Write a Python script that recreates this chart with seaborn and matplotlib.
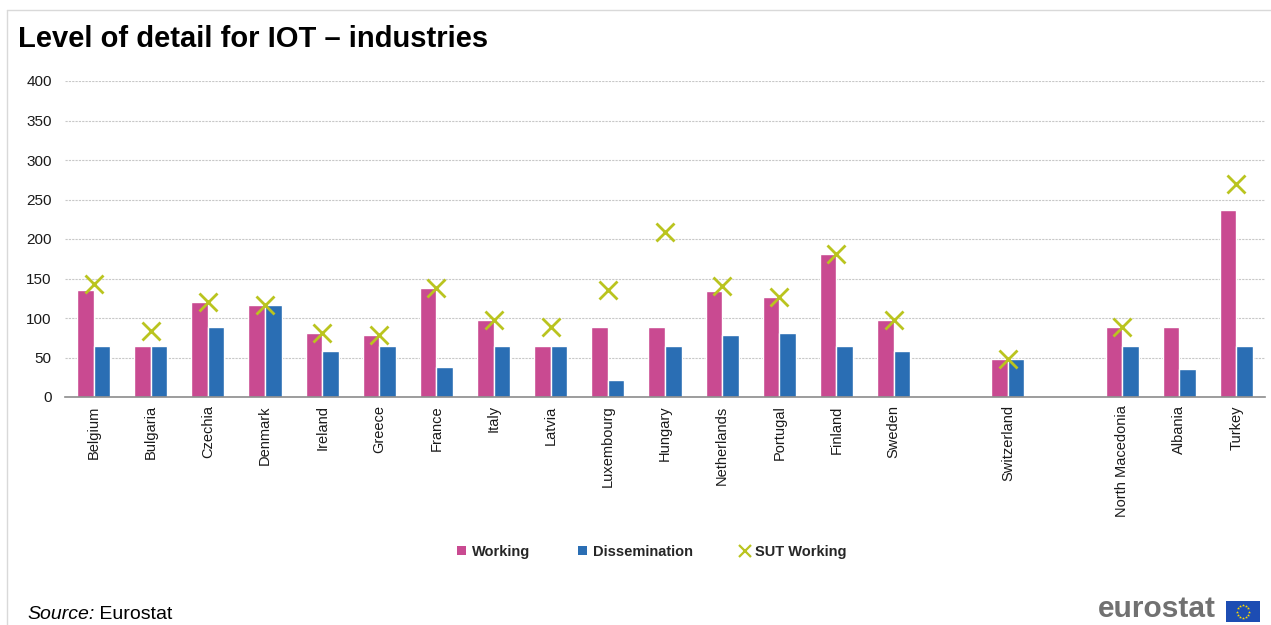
import numpy as np
import pandas as pd
import matplotlib
matplotlib.use("Agg")
import matplotlib.pyplot as plt
from matplotlib.patches import Patch
from matplotlib.lines import Line2D
import seaborn as sns

# ---- data -------------------------------------------------------------
countries = ["Belgium", "Bulgaria", "Czechia", "Denmark", "Ireland", "Greece",
             "France", "Italy", "Latvia", "Luxembourg", "Hungary", "Netherlands",
             "Portugal", "Finland", "Sweden", "Switzerland", "North Macedonia",
             "Albania", "Turkey"]
working = [136, 64, 120, 117, 81, 79, 138, 98, 64, 88, 88, 134, 127, 181, 97,
           48, 88, 88, 237]
dissemination = [64, 64, 88, 117, 58, 64, 38, 64, 64, 21, 64, 79, 81, 64, 58,
                 48, 64, 35, 64]
sut_working = [143, 84, 120, 117, 81, 79, 138, 98, 88, 136, 209, 140, 127, 181,
               97, 48, 88, np.nan, 270]
y_ticks = [0, 50, 100, 150, 200, 250, 300, 350, 400]

# category order with empty slots separating the country groups
order = countries[:15] + [" "] + ["Switzerland"] + ["  "] + countries[16:]

C_WORK = "#C94A91"
C_DISS = "#2A6EB4"
C_SUT = "#BAC41F"
GRID = "#C8C8C8"
AXIS = "#8C8C8C"

sns.set_style("white")
plt.rcParams["font.family"] = ["Liberation Sans", "DejaVu Sans"]

bars = pd.DataFrame({
    "country": countries * 2,
    "series": ["Working"] * len(countries) + ["Dissemination"] * len(countries),
    "value": working + dissemination,
})
sut = pd.DataFrame({"country": countries, "sut": sut_working}).dropna()

W, H = 1271, 625
fig = plt.figure(figsize=(W / 100, H / 100), dpi=100)
ax = fig.add_axes([65 / W, (H - 397) / H, 1200 / W, 316 / H])

sns.barplot(data=bars, x="country", y="value", hue="series", order=order,
            hue_order=["Working", "Dissemination"],
            palette=[C_WORK, C_DISS], width=0.58, gap=0, saturation=1,
            errorbar=None, legend=False, ax=ax, zorder=3)
sns.pointplot(data=sut, x="country", y="sut", order=order, color=C_SUT,
              marker="x", linestyle="none", markersize=13,
              markeredgewidth=2, errorbar=None, ax=ax, zorder=4)

n = len(order)
ax.set_xlim(-0.5, n - 0.5)
ax.set_ylim(0, 400)
ax.set_yticks(y_ticks)
ax.yaxis.grid(True, color=GRID, linestyle=(0, (2, 1)), linewidth=0.8, zorder=0)
ax.xaxis.grid(False)
ax.set_xlabel("")
ax.set_ylabel("")

for s in ["top", "right", "left"]:
    ax.spines[s].set_visible(False)
ax.spines["bottom"].set_color(AXIS)
ax.spines["bottom"].set_linewidth(1.2)
ax.spines["bottom"].set_zorder(5)

ax.tick_params(axis="y", length=0, pad=9.5, labelsize=11, labelcolor="#1a1a1a")
ax.set_xticks(range(n))
ax.set_xticklabels([c.strip() for c in order], rotation=90, va="top",
                   ha="center", fontsize=10.5, color="#1a1a1a")
ax.tick_params(axis="x", which="major", length=0, pad=6)
ax.set_xticks(np.arange(-0.5, n, 1.0), minor=True)
ax.tick_params(axis="x", which="minor", length=6, width=1, color=AXIS,
               direction="out")

# title
fig.text(18 / W, 1 - 47 / H, "Level of detail for IOT \u2013 industries",
         fontsize=21, fontweight="bold", color="#000000", va="baseline")

# legend
handles = [
    Patch(facecolor=C_WORK, edgecolor="none", label="Working"),
    Patch(facecolor=C_DISS, edgecolor="none", label="Dissemination"),
    Line2D([], [], marker="x", linestyle="none", color=C_SUT,
           markersize=8, markeredgewidth=1.6, label="SUT Working"),
]
fig.legend(handles=handles, loc="center", bbox_to_anchor=(652 / W, 1 - 552 / H),
           ncol=3, frameon=False, handlelength=0.6, handleheight=0.6,
           handletextpad=0.4, columnspacing=3.3,
           prop={"size": 10.5, "weight": "bold"})

# source line
src = fig.text(27 / W, 1 - 619 / H, "Source:", fontsize=14, style="italic",
               va="baseline", color="#000000")
ax.annotate(" Eurostat", xy=(1, 0), xycoords=src, xytext=(0, 0),
            textcoords="offset points", fontsize=14, va="bottom",
            ha="left", color="#000000", annotation_clip=False)

# eurostat logo
fig.text(1098 / W, 1 - 617 / H, "eurostat", fontsize=21.5, fontweight="bold",
         color="#717171", va="baseline")
flag = fig.add_axes([1226 / W, (H - 622) / H, 34 / W, 21 / H])
flag.set_facecolor("#1D4DB3")
flag.set_xlim(0, 34)
flag.set_ylim(0, 21)
ang = np.linspace(0, 2 * np.pi, 12, endpoint=False)
flag.scatter(17 + 6.3 * np.cos(ang), 10.5 + 6.3 * np.sin(ang), marker="*",
             s=5, color="#FFDD00", linewidths=0)
flag.set_xticks([])
flag.set_yticks([])
for s in flag.spines.values():
    s.set_visible(False)

# outer frame lines
fig.add_artist(Line2D([6.5 / W, 6.5 / W], [0, 1 - 10 / H], color="#D9D9D9",
                      linewidth=1, transform=fig.transFigure))
fig.add_artist(Line2D([6.5 / W, 1], [1 - 10 / H, 1 - 10 / H], color="#D9D9D9",
                      linewidth=1, transform=fig.transFigure))

fig.savefig("out.png", dpi=100)
